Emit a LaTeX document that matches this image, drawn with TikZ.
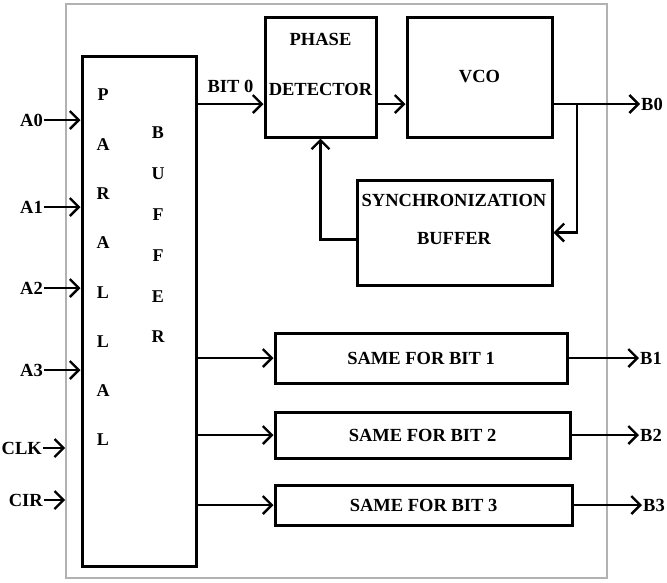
\documentclass[tikz,border=0pt]{standalone}
\usepackage{fontspec}
\setmainfont{Liberation Serif}
\usetikzlibrary{positioning,arrows.meta,calc}

\tikzset{
  blk/.style={draw,line width=3pt,inner sep=0pt},
  txt/.style={font=\bfseries\fontsize{18.5}{20}\selectfont,align=center,inner sep=1pt},
  sig/.style={->,line width=2.4pt},
}

\begin{document}
\begin{tikzpicture}[x=1pt,y=-1pt,>={Straight Barb[length=9pt,width=18pt]}]
  \useasboundingbox (0,0) rectangle (667,582);
  \node[draw=gray!60,line width=1.6pt,minimum width=541pt,minimum height=574pt,inner sep=0pt] (frame) at (336.5,291) {};
  % parallel buffer
  \node[blk,minimum width=114pt,minimum height=510pt] (buf) at (139,311) {};
  \node[txt,font=\bfseries\fontsize{18}{49.3}\selectfont] (bufl) at (103,267.5) {P\\A\\R\\A\\L\\L\\A\\L};
  \node[txt,font=\bfseries\fontsize{18}{40.8}\selectfont] (bufr) at (158,235) {B\\U\\F\\F\\E\\R};
  % bit 0 loop
  \node[blk,minimum width=111pt,minimum height=120pt] (pd) at (320.5,77) {};
  \node[txt,font=\bfseries\fontsize{18.5}{50}\selectfont] (pdl) at (320.5,64) {PHASE\\DETECTOR};
  \node[blk,txt,minimum width=145pt,minimum height=120pt] (vco) at (479.5,77) {VCO};
  \node[blk,minimum width=195pt,minimum height=105pt] (sync) at (454.5,232.5) {};
  \node[txt,font=\bfseries\fontsize{18.5}{38}\selectfont] (syncl) at (454,219) {SYNCHRONIZATION\\BUFFER};
  % other bits
  \node[blk,txt,minimum width=292pt,minimum height=50pt] (s1) at (421,358) {SAME FOR BIT 1};
  \node[blk,txt,minimum width=295pt,minimum height=46pt] (s2) at (422.5,435) {SAME FOR BIT 2};
  \node[blk,txt,minimum width=297pt,minimum height=40pt] (s3) at (423.5,505) {SAME FOR BIT 3};
  % inputs
  \foreach \n/\y in {0/120,1/207,2/288,3/370} {
    \node[txt,anchor=east] (a\n) at (44,\y) {A\n};
    \draw[sig] (a\n.east) -- (a\n.east -| buf.west);
  }
  \node[txt,anchor=east] (clk) at (43,448) {CLK};
  \node[txt,anchor=east] (clr) at (44,500) {CIR};
  \draw[sig] (clk.east) -- (clk.east -| frame.west);
  \draw[sig] (clr.east) -- (clr.east -| frame.west);
  % outputs
  \coordinate (row0) at (0,104);
  \coordinate (br) at (577,104);
  \node[txt,anchor=west] (b0) at (640,104) {B0};
  \node[txt,anchor=west] (b1) at (639,358) {B1};
  \node[txt,anchor=west] (b2) at (639,435) {B2};
  \node[txt,anchor=west] (b3) at (642,505) {B3};
  \draw[sig] (buf.east |- row0) -- node[txt,above=9pt] (bit0) {BIT 0} (pd.west |- row0);
  \draw[sig] (pd.east |- row0) -- (vco.west |- row0);
  \draw[sig] (vco.east |- row0) -- (b0.west);
  \draw[sig] (br) |- (sync.east);
  \draw[sig] ([yshift=-7pt]sync.west) -| (pd.south);
  \foreach \s/\b in {s1/b1,s2/b2,s3/b3} {
    \draw[sig] (buf.east |- \s.west) -- (\s.west);
    \draw[sig] (\s.east) -- (\s.east -| \b.west);
  }
\end{tikzpicture}
\end{document}
